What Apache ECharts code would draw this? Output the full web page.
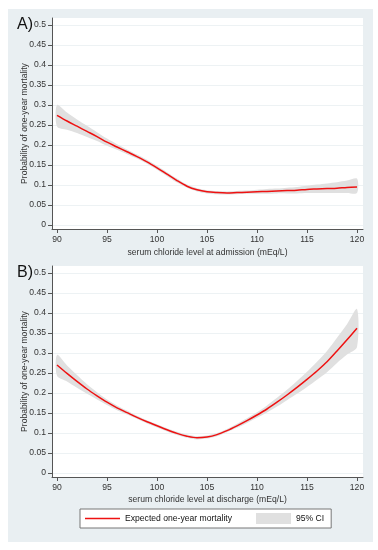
<!DOCTYPE html>
<html><head><meta charset="utf-8">
<script src="https://cdn.jsdelivr.net/npm/echarts@6/dist/echarts.min.js"></script>
<style>html,body{margin:0;padding:0;background:#fff}#c{width:378px;height:550px}</style>
</head><body><div id="c"></div>
<script>
const chlorideLevels = [90,91,92,93,94,95,96,97,98,99,100,101,102,103,104,105,106,107,108,109,110,111,112,113,114,115,116,117,118,119,120];
const xTicks = [90,95,100,105,110,115,120];
const yTicks = [0,0.05,0.1,0.15,0.2,0.25,0.3,0.35,0.4,0.45,0.5];

// Panel A: chloride at admission
const mortalityA = [0.274,0.260,0.247,0.234,0.221,0.207,0.195,0.183,0.171,0.158,0.143,0.127,0.111,0.097,0.088,0.083,0.081,0.080,0.081,0.082,0.083,0.084,0.085,0.086,0.087,0.089,0.090,0.091,0.092,0.094,0.095];
const upperA = [0.300,0.281,0.264,0.248,0.232,0.216,0.202,0.189,0.176,0.163,0.148,0.132,0.116,0.101,0.092,0.087,0.085,0.084,0.085,0.086,0.088,0.090,0.091,0.093,0.095,0.098,0.101,0.104,0.107,0.111,0.116];
const lowerA = [0.246,0.238,0.230,0.220,0.210,0.198,0.188,0.177,0.166,0.153,0.138,0.122,0.106,0.093,0.084,0.079,0.077,0.076,0.077,0.078,0.078,0.078,0.079,0.079,0.079,0.080,0.080,0.080,0.080,0.080,0.080];

// Panel B: chloride at discharge
const mortalityB = [0.270,0.249,0.229,0.210,0.193,0.177,0.163,0.151,0.139,0.128,0.118,0.108,0.099,0.092,0.088,0.090,0.096,0.106,0.118,0.131,0.145,0.160,0.177,0.195,0.214,0.234,0.255,0.278,0.305,0.333,0.362];
const upperB = [0.295,0.269,0.245,0.222,0.202,0.184,0.169,0.156,0.143,0.132,0.122,0.112,0.103,0.096,0.092,0.094,0.100,0.110,0.123,0.137,0.152,0.169,0.188,0.208,0.230,0.253,0.278,0.305,0.338,0.372,0.410];
const lowerB = [0.243,0.229,0.213,0.198,0.184,0.170,0.157,0.146,0.135,0.124,0.114,0.104,0.095,0.088,0.084,0.086,0.092,0.102,0.113,0.125,0.138,0.151,0.166,0.182,0.198,0.215,0.233,0.252,0.275,0.296,0.315];

const lineName = 'Expected one-year mortality';
const ciName = '95% CI';
const xTitles = ['serum chloride level at admission (mEq/L)', 'serum chloride level at discharge (mEq/L)'];
const yTitle = 'Probability of one-year mortality';

const FF = 'Liberation Sans, Arial, Helvetica, sans-serif';
const FS = 8.6;
const AX = '#555';
const RED = '#ee1111';
const BAND = '#e0e0e0';

function pairs(ys){ return chlorideLevels.map((x,i)=>[x, ys[i]]); }

function xAxis(g, nameGap){
  return {gridIndex:g, type:'value', min:89.5, max:120.6,
    name:xTitles[g], nameLocation:'middle', nameGap:nameGap, nameMoveOverlap:false,
    nameTextStyle:{fontSize:FS, color:'#333', fontFamily:FF},
    axisLine:{show:true, onZero:false, lineStyle:{color:AX, width:1}},
    axisTick:{show:true, length:4, customValues:xTicks, lineStyle:{color:AX}},
    axisLabel:{customValues:xTicks, margin:6, fontSize:FS, color:'#333', fontFamily:FF},
    splitLine:{show:false}};
}
function yAxis(g){
  return {gridIndex:g, type:'value', min:-0.01, max:0.5175,
    name:yTitle, nameLocation:'middle', nameGap:23, nameMoveOverlap:false,
    nameTextStyle:{fontSize:FS, color:'#333', fontFamily:FF},
    axisLine:{show:true, onZero:false, lineStyle:{color:AX, width:1}},
    axisTick:{show:true, length:4, customValues:yTicks, lineStyle:{color:AX}},
    axisLabel:{customValues:yTicks, margin:6, fontSize:FS, color:'#333', fontFamily:FF,
      formatter:v=>String(+(+v).toFixed(2))},
    splitLine:{show:true, customValues:yTicks, lineStyle:{color:'#edf2f4', width:1}}};
}
function bandSeries(g, u, l){
  const rows = chlorideLevels.map((x,i)=>[x, l[i], u[i]]);
  return {name:ciName, type:'custom', xAxisIndex:g, yAxisIndex:g, silent:true, z:1,
    itemStyle:{color:BAND},
    encode:{x:0, y:[1,2]},
    data:rows,
    renderItem:function(params, api){
      if (params.dataIndex !== 0) return null;
      const top = rows.map(r=>api.coord([r[0], r[2]]));
      const bot = rows.slice().reverse().map(r=>api.coord([r[0], r[1]]));
      return {type:'polygon', shape:{points: top.concat(bot), smooth:0.3},
        style:{fill:BAND, stroke:null}};
    }};
}
function lineSeries(g, m){
  return {name:lineName, type:'line', xAxisIndex:g, yAxisIndex:g, symbol:'none', smooth:0.3,
    lineStyle:{color:RED, width:1.5}, itemStyle:{color:RED}, data:pairs(m), z:3};
}

const chart = echarts.init(document.getElementById('c'), null, {renderer:'canvas'});
chart.setOption({
  animation:false,
  backgroundColor:'#fff',
  textStyle:{fontFamily:FF},
  graphic:[
    {type:'rect', z:-10, shape:{x:8, y:9, width:365, height:533}, style:{fill:'#e9eff2'}},
    {type:'text', left:17, top:17, style:{text:'A)', fontSize:16, fontFamily:FF, fill:'#111'}},
    {type:'text', left:17, top:265, style:{text:'B)', fontSize:16, fontFamily:FF, fill:'#111'}}
  ],
  grid:[
    {left:52, top:18, width:311, height:211, show:true, backgroundColor:'#fff', borderWidth:0, containLabel:false},
    {left:52, top:266, width:311, height:211, show:true, backgroundColor:'#fff', borderWidth:0, containLabel:false}
  ],
  xAxis:[xAxis(0,19), xAxis(1,18)],
  yAxis:[yAxis(0), yAxis(1)],
  legend:{left:80, top:509, orient:'horizontal', itemWidth:35, itemHeight:11, itemGap:24,
    padding:[4,7,4,5], backgroundColor:'#fff', borderColor:'#777', borderWidth:1, selectedMode:false,
    textStyle:{fontSize:FS, color:'#111', fontFamily:FF},
    data:[{name:lineName, icon:'path://M0,0H35V1.6H0Z', itemStyle:{color:RED}},
          {name:ciName, icon:'rect', itemStyle:{color:BAND}}]},
  series:[
    bandSeries(0, upperA, lowerA),
    lineSeries(0, mortalityA),
    bandSeries(1, upperB, lowerB),
    lineSeries(1, mortalityB)
  ]
});
</script></body></html>
